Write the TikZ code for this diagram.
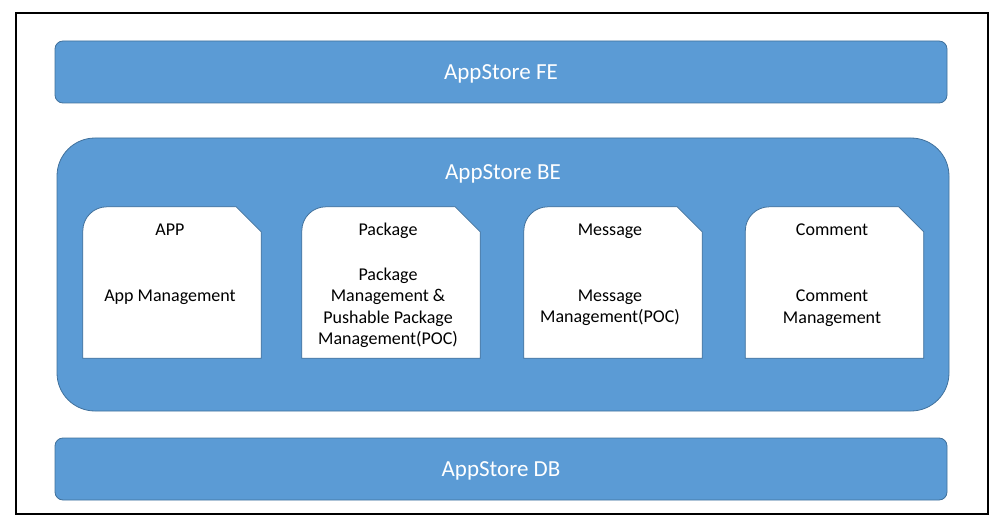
\documentclass[tikz,border=0pt]{standalone}
\usepackage{fontspec}
\setmainfont{Carlito}
\usepackage{tikz}
\usetikzlibrary{positioning}
\definecolor{barblue}{RGB}{91,155,213}
\definecolor{edgeblue}{RGB}{65,113,156}

\begin{document}
\begin{tikzpicture}[x=1pt, y=-1pt,
  bar/.style={rectangle, draw=edgeblue, fill=barblue, line width=0.8pt, rounded corners=8pt, minimum width=892pt, minimum height=62pt, text=white, font=\fontsize{23}{27}\selectfont},
  cardbox/.style={rectangle, minimum width=178pt, minimum height=151pt, inner sep=0pt},
  card/.style={draw=edgeblue, fill=white, line width=0.8pt},
  cardtext/.style={font=\fontsize{18}{21.5}\selectfont, align=center, text=black},
  cardtitle/.style={cardtext, text height=12pt, text depth=0pt}
]
  \useasboundingbox (0,0) rectangle (1005,532);
  \node[draw=black, line width=1.2pt, minimum width=972pt, minimum height=501pt] (frame) at (502,263.5) {};

  \node[bar, text depth=0pt, text height=15pt] (fe) at (501,72) {AppStore FE};
  \node[bar, rounded corners=38pt, minimum height=273pt] (be) at (503,274.5) {};
  \node[text=white, font=\fontsize{23}{27}\selectfont] (betitle) at (503,173.5) {AppStore BE};
  \node[bar, text depth=0pt, text height=15pt] (db) at (501,469) {AppStore DB};

  % modules inside the backend
  \node[cardbox] (app) at (172,282.5) {};
  \node[cardbox] (pkg) at (391,282.5) {};
  \node[cardbox] (msg) at (613,282.5) {};
  \node[cardbox] (cmt) at (834.5,282.5) {};
  \foreach \c in {app,pkg,msg,cmt}
    \draw[card] (\c.south west) -- ([yshift=-24pt]\c.north west)
      arc[start angle=180, end angle=90, radius=24pt]
      -- ([xshift=-25pt]\c.north east) -- ([yshift=-25pt]\c.north east)
      -- (\c.south east) -- cycle;

  \node[cardtitle] (apptitle) at (170,230) {APP};
  \node[cardtext] (appbody) at (170,297.5) {App Management};
  \node[cardtitle] (pkgtitle) at (388,230) {Package};
  \node[cardtext] (pkgbody) at (388,308) {Package\\Management \&\\Pushable Package\\Management(POC)};
  \node[cardtitle] (msgtitle) at (610,230) {Message};
  \node[cardtext] (msgbody) at (610,308) {Message\\Management(POC)};
  \node[cardtitle] (cmttitle) at (832,230) {Comment};
  \node[cardtext] (cmtbody) at (832,308) {Comment\\Management};
\end{tikzpicture}
\end{document}
